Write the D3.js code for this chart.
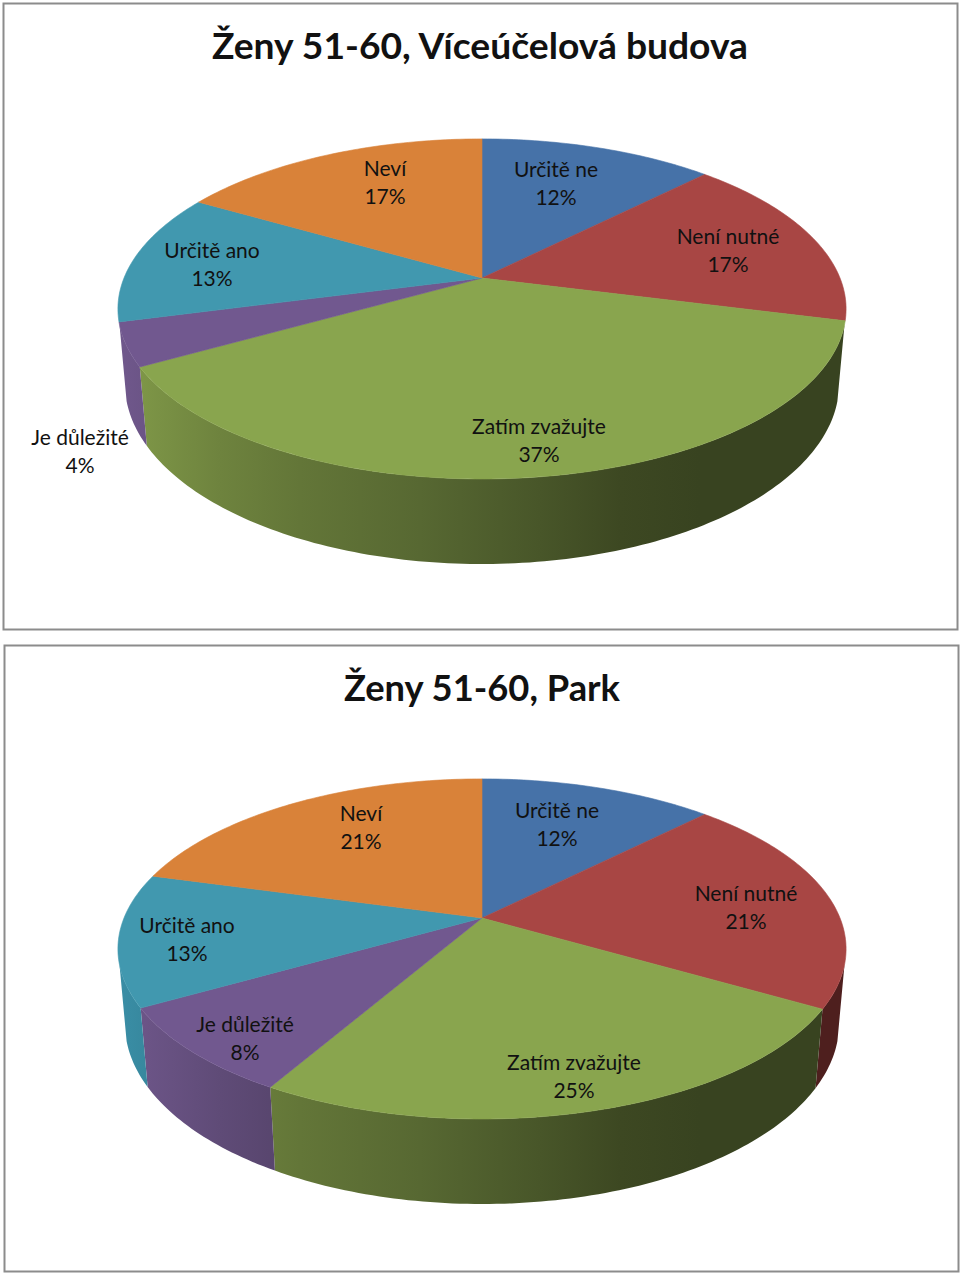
<!DOCTYPE html>
<html><head><meta charset="utf-8">
<script src="https://cdn.jsdelivr.net/npm/d3@7/dist/d3.min.js"></script>
<style>html,body{margin:0;padding:0;background:#fff}svg{display:block}text{font-family:Lato,"Open Sans",sans-serif;fill:#111}</style>
</head><body><svg id="c" width="960" height="1274"></svg>
<script>
const categories = ["Určitě ne","Není nutné","Zatím zvažujte","Je důležité","Určitě ano","Neví"];
const titleA = "Ženy 51-60, Víceúčelová budova";
const titleB = "Ženy 51-60, Park";
const valuesA = [12.4,16.6,37.8,4.1,12.5,16.6];
const valuesB = [12.4,21.0,24.9,8.4,12.6,20.7];
const labelsA = ["12%","17%","37%","4%","13%","17%"];
const labelsB = ["12%","21%","25%","8%","13%","21%"];
const topColors = ["#4672a8","#a84644","#89a54e","#71588f","#4198af","#d98239"];
const wallColors = ["#4672a8","#c44e4b","#8da850","#7a6098","#3f9ab4","#d98239"];

// layout
const panelA = {x:3.5,y:3.5,w:954,h:626,cx:482,cy:278,titleY:59,titleX:480,titleW:536};
const panelB = {x:4.5,y:645.5,w:954,h:626,cx:482,cy:918,titleY:701,titleX:482,titleW:276};
const labelPosA = [[556,177],[728,244],[539,434],[80,445],[212,258],[385,176]];
const labelPosB = [[557,818],[746,901],[574,1070],[245,1032],[187,933],[361,821]];
const A=358,B=164.4,K=0.182,E=0.019,D=75;
const wallStart=105.7*Math.PI/180, wallEnd=254.3*Math.PI/180;
const shadeX = d3.scaleLinear().domain([118,846]).range([0,1]);
const shadeStops = [[118,.92],[147,.88],[220,.78],[300,.70],[420,.62],[540,.51],[620,.43],[700,.40],[846,.40]];

const svg=d3.select("#c");
const defs=svg.append("defs");
const shade=(c,f)=>{const r=d3.rgb(c);return d3.rgb(r.r*f,r.g*f,r.b*f).formatHex();};
wallColors.forEach((c,i)=>{
  const g=defs.append("linearGradient").attr("id","wall"+i).attr("gradientUnits","userSpaceOnUse")
    .attr("x1",118).attr("x2",846).attr("y1",0).attr("y2",0);
  shadeStops.forEach(s=>g.append("stop").attr("offset",shadeX(s[0])).attr("stop-color",shade(c,s[1])));
});
const pie=d3.pie().sort(null).value(d=>d).startAngle(0).endAngle(2*Math.PI);
const line=d3.line();
const step=Math.PI/180;
function samples(a0,a1){const n=Math.max(2,Math.ceil((a1-a0)/step)+1);return d3.range(n).map(i=>a0+(a1-a0)*i/(n-1));}

function drawPanel(p,title,values,labels,pos){
  const g=svg.append("g");
  g.append("rect").attr("x",p.x).attr("y",p.y).attr("width",p.w).attr("height",p.h)
    .attr("fill","#fff").attr("stroke","#8c8c8c").attr("stroke-width",2);
  const topP=a=>{const u=Math.sin(a),v=-Math.cos(a),w=1-K*v;return [p.cx+A*u/w,p.cy+B*v/w];};
  const botP=a=>{const u=Math.sin(a),v=-Math.cos(a),w=1-K*v+E;return [p.cx+A*u/w,p.cy+(B*v+D)/w];};
  const arcs=pie(values);
  arcs.forEach((d,i)=>{
    const a0=Math.max(d.startAngle,wallStart),a1=Math.min(d.endAngle,wallEnd);
    if(a1<=a0) return;
    const s=samples(a0,a1);
    const pts=s.map(topP).concat(s.slice().reverse().map(botP));
    g.append("path").attr("d",line(pts)+"Z").attr("fill",`url(#wall${i})`);
  });
  arcs.forEach((d,i)=>{
    const pts=[[p.cx,p.cy]].concat(samples(d.startAngle,d.endAngle).map(topP));
    g.append("path").attr("d",line(pts)+"Z").attr("fill",topColors[i])
      .attr("stroke",topColors[i]).attr("stroke-width",.6).attr("stroke-linejoin","round");
  });
  g.append("text").attr("x",p.titleX).attr("y",p.titleY).attr("text-anchor","middle")
    .attr("font-size",36).attr("font-weight",700).attr("textLength",p.titleW).attr("lengthAdjust","spacingAndGlyphs").text(title);
  categories.forEach((c,i)=>{
    const t=g.append("text").attr("text-anchor","middle").attr("font-size",21);
    t.append("tspan").attr("x",pos[i][0]).attr("y",pos[i][1]).text(c);
    t.append("tspan").attr("x",pos[i][0]).attr("y",pos[i][1]+27.5).text(labels[i]);
  });
}
drawPanel(panelA,titleA,valuesA,labelsA,labelPosA);
drawPanel(panelB,titleB,valuesB,labelsB,labelPosB);
</script></body></html>
